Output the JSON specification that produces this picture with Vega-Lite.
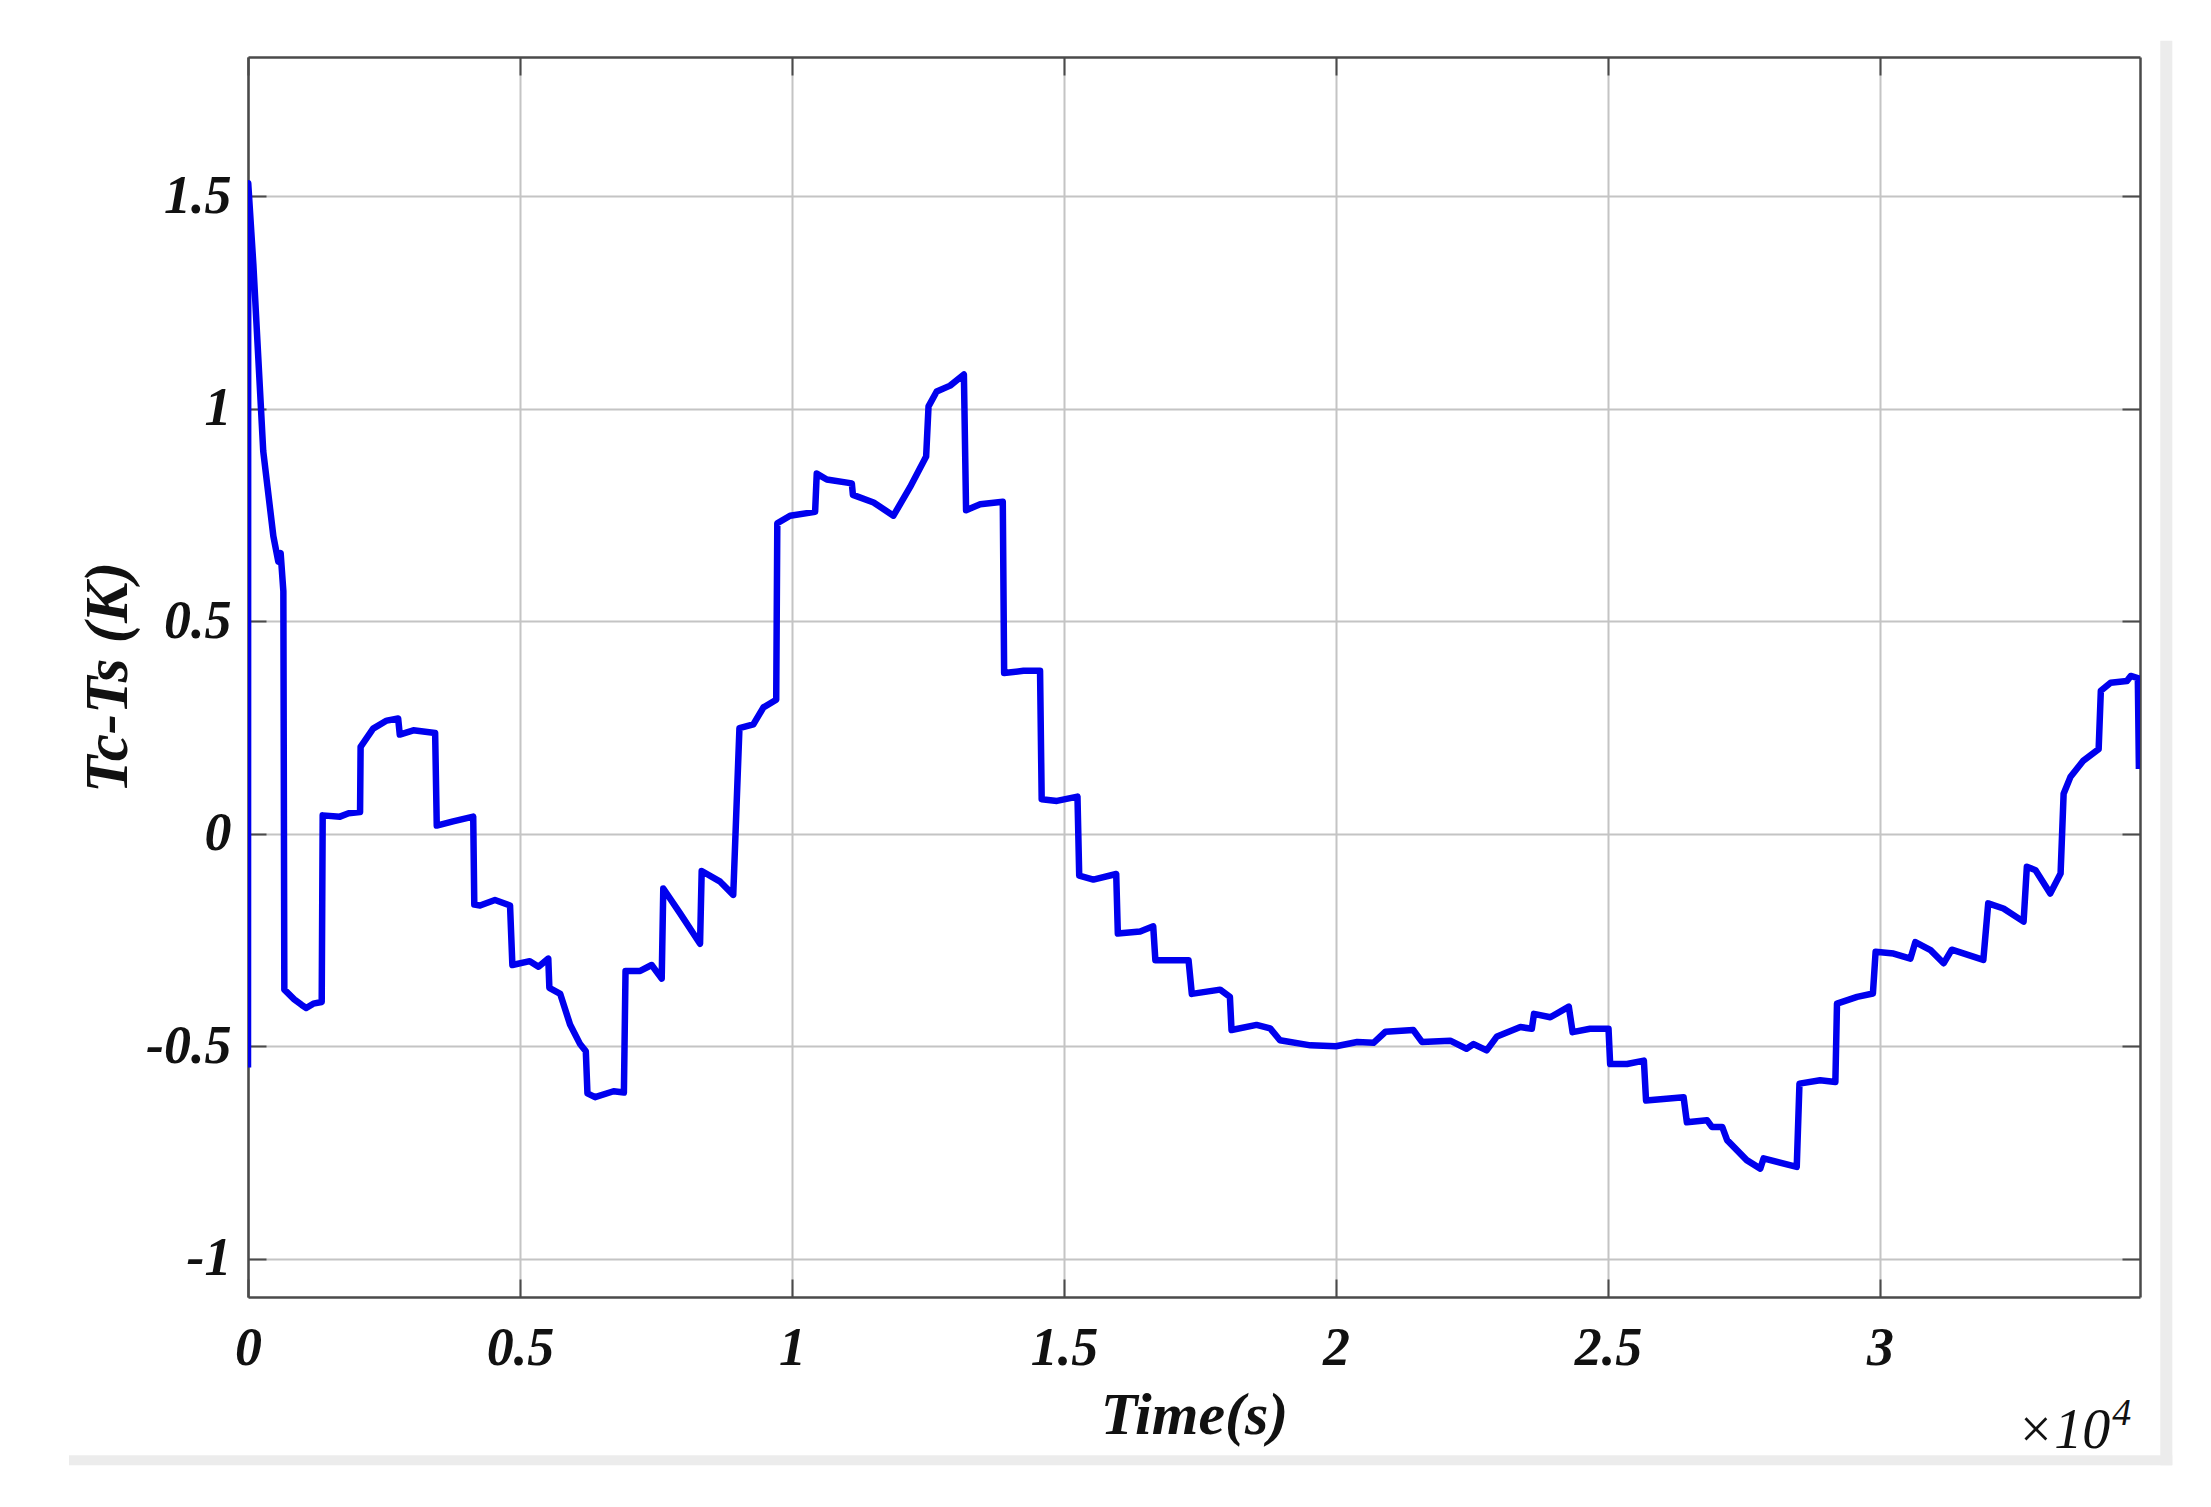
{
  "$schema": "https://vega.github.io/schema/vega-lite/v6.json",
  "width": 1892,
  "height": 1240,
  "autosize": {"type": "none"},
  "padding": {"left": 248, "top": 57, "right": 71, "bottom": 210},
  "background": "white",
  "config": {"view": {"stroke": null}, "font": "Liberation Serif"},
  "datasets": {
    "series": [
      {"time": 0, "dT": -0.55}, {"time": 4, "dT": 1.53}, {"time": 98, "dT": 1.34}, {"time": 280, "dT": 0.9},
      {"time": 466, "dT": 0.7}, {"time": 557, "dT": 0.64}, {"time": 600, "dT": 0.66}, {"time": 650, "dT": 0.57},
      {"time": 668, "dT": -0.367}, {"time": 850, "dT": -0.39}, {"time": 987, "dT": -0.403}, {"time": 1070, "dT": -0.41},
      {"time": 1200, "dT": -0.4}, {"time": 1355, "dT": -0.396}, {"time": 1373, "dT": 0.043}, {"time": 1690, "dT": 0.04},
      {"time": 1850, "dT": 0.048}, {"time": 2060, "dT": 0.051}, {"time": 2070, "dT": 0.204}, {"time": 2300, "dT": 0.247},
      {"time": 2550, "dT": 0.266}, {"time": 2760, "dT": 0.271}, {"time": 2790, "dT": 0.233}, {"time": 3040, "dT": 0.243},
      {"time": 3440, "dT": 0.237}, {"time": 3470, "dT": 0.019}, {"time": 3770, "dT": 0.029}, {"time": 4140, "dT": 0.04},
      {"time": 4160, "dT": -0.167}, {"time": 4265, "dT": -0.169}, {"time": 4540, "dT": -0.156}, {"time": 4817, "dT": -0.169},
      {"time": 4860, "dT": -0.309}, {"time": 5180, "dT": -0.3}, {"time": 5340, "dT": -0.313}, {"time": 5520, "dT": -0.294},
      {"time": 5540, "dT": -0.363}, {"time": 5740, "dT": -0.377}, {"time": 5920, "dT": -0.449}, {"time": 6100, "dT": -0.494},
      {"time": 6210, "dT": -0.512}, {"time": 6240, "dT": -0.611}, {"time": 6380, "dT": -0.62}, {"time": 6720, "dT": -0.606},
      {"time": 6910, "dT": -0.609}, {"time": 6940, "dT": -0.323}, {"time": 7210, "dT": -0.323}, {"time": 7420, "dT": -0.309},
      {"time": 7605, "dT": -0.341}, {"time": 7634, "dT": -0.129}, {"time": 7940, "dT": -0.187}, {"time": 8310, "dT": -0.259},
      {"time": 8340, "dT": -0.088}, {"time": 8680, "dT": -0.113}, {"time": 8920, "dT": -0.144}, {"time": 9034, "dT": 0.248},
      {"time": 9290, "dT": 0.257}, {"time": 9475, "dT": 0.297}, {"time": 9710, "dT": 0.315}, {"time": 9730, "dT": 0.73},
      {"time": 9965, "dT": 0.748}, {"time": 10425, "dT": 0.757}, {"time": 10455, "dT": 0.847}, {"time": 10640, "dT": 0.833},
      {"time": 11100, "dT": 0.824}, {"time": 11120, "dT": 0.797}, {"time": 11500, "dT": 0.779}, {"time": 11865, "dT": 0.748},
      {"time": 12170, "dT": 0.815}, {"time": 12466, "dT": 0.887}, {"time": 12510, "dT": 1.005}, {"time": 12660, "dT": 1.04},
      {"time": 12907, "dT": 1.054}, {"time": 13160, "dT": 1.08}, {"time": 13200, "dT": 0.761}, {"time": 13460, "dT": 0.775},
      {"time": 13875, "dT": 0.781}, {"time": 13900, "dT": 0.378}, {"time": 14255, "dT": 0.383}, {"time": 14560, "dT": 0.383},
      {"time": 14590, "dT": 0.081}, {"time": 14870, "dT": 0.077}, {"time": 15248, "dT": 0.087}, {"time": 15280, "dT": -0.099},
      {"time": 15540, "dT": -0.108}, {"time": 15960, "dT": -0.095}, {"time": 15990, "dT": -0.235}, {"time": 16400, "dT": -0.23},
      {"time": 16640, "dT": -0.218}, {"time": 16680, "dT": -0.298}, {"time": 17290, "dT": -0.298}, {"time": 17350, "dT": -0.377},
      {"time": 17870, "dT": -0.367}, {"time": 18050, "dT": -0.384}, {"time": 18080, "dT": -0.462}, {"time": 18540, "dT": -0.45},
      {"time": 18790, "dT": -0.458}, {"time": 18970, "dT": -0.486}, {"time": 19530, "dT": -0.498}, {"time": 20000, "dT": -0.5},
      {"time": 20390, "dT": -0.49}, {"time": 20690, "dT": -0.492}, {"time": 20910, "dT": -0.466}, {"time": 21420, "dT": -0.462},
      {"time": 21580, "dT": -0.49}, {"time": 22100, "dT": -0.487}, {"time": 22400, "dT": -0.506}, {"time": 22530, "dT": -0.495},
      {"time": 22770, "dT": -0.51}, {"time": 22960, "dT": -0.477}, {"time": 23390, "dT": -0.455}, {"time": 23600, "dT": -0.459},
      {"time": 23640, "dT": -0.424}, {"time": 23940, "dT": -0.432}, {"time": 24280, "dT": -0.407}, {"time": 24350, "dT": -0.467},
      {"time": 24670, "dT": -0.459}, {"time": 25010, "dT": -0.459}, {"time": 25040, "dT": -0.542}, {"time": 25350, "dT": -0.542},
      {"time": 25660, "dT": -0.534}, {"time": 25700, "dT": -0.628}, {"time": 26020, "dT": -0.624}, {"time": 26390, "dT": -0.62},
      {"time": 26450, "dT": -0.679}, {"time": 26820, "dT": -0.674}, {"time": 26910, "dT": -0.69}, {"time": 27100, "dT": -0.69},
      {"time": 27190, "dT": -0.721}, {"time": 27550, "dT": -0.768}, {"time": 27800, "dT": -0.788}, {"time": 27860, "dT": -0.764},
      {"time": 28470, "dT": -0.784}, {"time": 28520, "dT": -0.588}, {"time": 28900, "dT": -0.58}, {"time": 29180, "dT": -0.584},
      {"time": 29210, "dT": -0.4}, {"time": 29580, "dT": -0.384}, {"time": 29870, "dT": -0.376}, {"time": 29920, "dT": -0.278},
      {"time": 30250, "dT": -0.282}, {"time": 30560, "dT": -0.294}, {"time": 30650, "dT": -0.255}, {"time": 30930, "dT": -0.274},
      {"time": 31170, "dT": -0.305}, {"time": 31320, "dT": -0.273}, {"time": 31900, "dT": -0.297}, {"time": 31990, "dT": -0.164},
      {"time": 32270, "dT": -0.176}, {"time": 32640, "dT": -0.207}, {"time": 32700, "dT": -0.078}, {"time": 32860, "dT": -0.086},
      {"time": 33130, "dT": -0.141}, {"time": 33320, "dT": -0.094}, {"time": 33376, "dT": 0.094}, {"time": 33500, "dT": 0.133},
      {"time": 33740, "dT": 0.172}, {"time": 34020, "dT": 0.199}, {"time": 34060, "dT": 0.336}, {"time": 34240, "dT": 0.355},
      {"time": 34540, "dT": 0.359}, {"time": 34610, "dT": 0.371}, {"time": 34740, "dT": 0.366}, {"time": 34760, "dT": 0.152}
    ]
  },
  "layer": [
    {
      "data": {"values": [{"part": "right"}]},
      "mark": {"type": "rect", "color": "#ececec", "clip": false},
      "encoding": {
        "x": {"datum": 35153, "type": "quantitative", "scale": {"domain": [0, 34780], "nice": false, "zero": false}, "axis": null},
        "x2": {"datum": 35374},
        "y": {"datum": 1.865, "type": "quantitative", "scale": {"domain": [-1.09, 1.827], "nice": false, "zero": false}, "axis": null},
        "y2": {"datum": -1.486}
      }
    },
    {
      "data": {"values": [{"part": "bottom"}]},
      "mark": {"type": "rect", "color": "#ececec", "clip": false},
      "encoding": {
        "x": {"datum": -3291, "type": "quantitative", "axis": null},
        "x2": {"datum": 35374},
        "y": {"datum": -1.462, "type": "quantitative", "axis": null},
        "y2": {"datum": -1.486}
      }
    },
    {
      "data": {"name": "series"},
      "mark": {"type": "line", "color": "#0000ee", "strokeWidth": 6.5, "strokeJoin": "round", "clip": true},
      "encoding": {
        "x": {
          "field": "time", "type": "quantitative",
          "axis": {
            "orient": "bottom",
            "values": [0, 5000, 10000, 15000, 20000, 25000, 30000],
            "labelExpr": "datum.value / 10000 + ''",
            "title": "Time(s)",
            "grid": true, "gridColor": "#c4c4c4", "gridWidth": 2,
            "domainColor": "#4a4a4a", "domainWidth": 2.5,
            "ticks": true, "tickColor": "#4a4a4a", "tickSize": -18, "tickWidth": 2,
            "labelFont": "Liberation Serif", "labelFontSize": 54, "labelFontStyle": "italic", "labelFontWeight": "bold",
            "labelColor": "#111111", "labelPadding": 42, "labelFlush": false,
            "titleFont": "Liberation Serif", "titleFontSize": 60, "titleFontStyle": "italic", "titleFontWeight": "bold",
            "titleColor": "#111111", "titlePadding": 11
          }
        },
        "y": {
          "field": "dT", "type": "quantitative",
          "axis": {
            "orient": "left",
            "values": [-1, -0.5, 0, 0.5, 1, 1.5],
            "labelExpr": "datum.value + ''",
            "title": "Tc-Ts (K)",
            "grid": true, "gridColor": "#c4c4c4", "gridWidth": 2,
            "domainColor": "#4a4a4a", "domainWidth": 2.5,
            "ticks": true, "tickColor": "#4a4a4a", "tickSize": -18, "tickWidth": 2,
            "labelFont": "Liberation Serif", "labelFontSize": 54, "labelFontStyle": "italic", "labelFontWeight": "bold",
            "labelColor": "#111111", "labelPadding": 35, "labelFlush": false,
            "titleFont": "Liberation Serif", "titleFontSize": 61, "titleFontStyle": "italic", "titleFontWeight": "bold",
            "titleColor": "#111111", "titlePadding": 6
          }
        }
      }
    },
    {
      "data": {"name": "series"},
      "mark": {"type": "line", "opacity": 0},
      "encoding": {
        "x": {
          "field": "time", "type": "quantitative",
          "axis": {
            "orient": "top", "values": [0, 5000, 10000, 15000, 20000, 25000, 30000],
            "labels": false, "title": null, "grid": false,
            "domainColor": "#4a4a4a", "domainWidth": 2.5,
            "tickColor": "#4a4a4a", "tickSize": -18, "tickWidth": 2
          }
        },
        "y": {
          "field": "dT", "type": "quantitative",
          "axis": {
            "orient": "right", "values": [-1, -0.5, 0, 0.5, 1, 1.5],
            "labels": false, "title": null, "grid": false,
            "domainColor": "#4a4a4a", "domainWidth": 2.5,
            "tickColor": "#4a4a4a", "tickSize": -18, "tickWidth": 2
          }
        }
      }
    },
    {
      "data": {"values": [{"label": "×10"}]},
      "mark": {"type": "text", "align": "right", "baseline": "alphabetic", "font": "Liberation Serif", "fontSize": 56, "fontStyle": "italic", "color": "#111111", "clip": false},
      "encoding": {
        "x": {"datum": 34234, "type": "quantitative", "axis": null},
        "y": {"datum": -1.445, "type": "quantitative", "axis": null},
        "text": {"field": "label"}
      }
    },
    {
      "data": {"values": [{"label": "4"}]},
      "mark": {"type": "text", "align": "left", "baseline": "alphabetic", "font": "Liberation Serif", "fontSize": 38, "fontStyle": "italic", "color": "#111111", "clip": false},
      "encoding": {
        "x": {"datum": 34270, "type": "quantitative", "axis": null},
        "y": {"datum": -1.39, "type": "quantitative", "axis": null},
        "text": {"field": "label"}
      }
    }
  ],
  "resolve": {"axis": {"x": "independent", "y": "independent"}}
}
